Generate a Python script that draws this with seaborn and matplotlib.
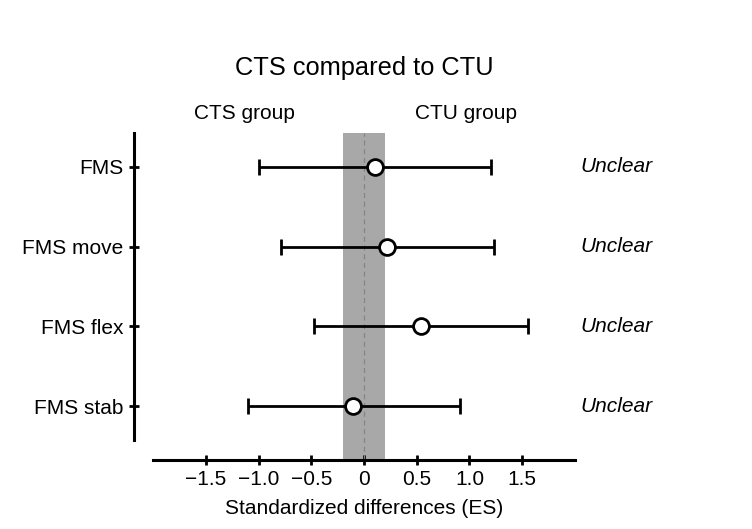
import matplotlib
matplotlib.use("Agg")
import matplotlib.pyplot as plt
import matplotlib.transforms as mtransforms
import seaborn as sns
import pandas as pd

# --- dane ---
outcomes = ["FMS", "FMS move", "FMS flex", "FMS stab"]
es = [0.10, 0.22, 0.54, -0.10]
ci_low = [-1.00, -0.79, -0.47, -1.10]
ci_high = [1.20, 1.23, 1.55, 0.91]
verdicts = ["Unclear", "Unclear", "Unclear", "Unclear"]
trivial = 0.2
xticks = [-1.5, -1.0, -0.5, 0, 0.5, 1.0, 1.5]
xticklabels = ["\u22121.5", "\u22121.0", "\u22120.5", "0", "0.5", "1.0", "1.5"]

df = pd.DataFrame({"outcome": outcomes, "es": es, "lo": ci_low, "hi": ci_high})
df["pos"] = range(len(df))

sns.set_theme(style="ticks")
plt.rcParams["font.family"] = ["Liberation Sans", "DejaVu Sans"]
plt.rcParams.update({"text.color": "black", "axes.labelcolor": "black",
                     "xtick.color": "black", "ytick.color": "black"})
FS = 15

fig = plt.figure(figsize=(7.52, 5.29), dpi=100)
ax = fig.add_axes([0.2035, 0.1682, 0.5611, 0.5804])

# pas "trywialny" +/- 0.2 i linia zera - sięga aż do osi X (przesuniętej)
ax.axvspan(-trivial, trivial, ymin=-0.065, ymax=1.0, color="#a8a8a8", lw=0, clip_on=False, zorder=0)
ax.axvline(0, ymin=-0.065, ymax=1.0, color="#858585", lw=0.9, ls=(0, (4, 3)), clip_on=False, zorder=1)

# przedziały ufności
ax.errorbar(df["es"], df["pos"],
            xerr=[df["es"] - df["lo"], df["hi"] - df["es"]],
            fmt="none", ecolor="black", elinewidth=2, capsize=5.5, capthick=2, zorder=2)

# punkty ES
sns.scatterplot(data=df, x="es", y="pos", ax=ax, s=130, color="white",
                edgecolor="black", linewidth=2, zorder=3, legend=False)

ax.set_xlim(-2, 2)
ax.set_ylim(len(df) - 1 + 0.42, -0.42)
ax.set_yticks(df["pos"])
ax.set_yticklabels(outcomes)
ax.set_xticks(xticks)
ax.set_xticklabels(xticklabels)
ax.set_ylabel("")
ax.set_xlabel("Standardized differences (ES)", fontsize=FS, labelpad=7)

sns.despine(ax=ax, offset={"left": 13.7, "bottom": 14.4})
for s in ["left", "bottom"]:
    ax.spines[s].set_linewidth(2.2)
    ax.spines[s].set_color("black")
ax.tick_params(axis="both", direction="inout", length=7, width=2, color="black",
               labelcolor="black", labelsize=FS, pad=4)

# opisy po prawej stronie
tr = mtransforms.blended_transform_factory(ax.transAxes, ax.transData)
for p, v in zip(df["pos"], verdicts):
    ax.text(1.012, p, v, transform=tr, fontsize=FS, style="italic", va="center", ha="left")

# etykiety grup nad wykresem
tr2 = mtransforms.blended_transform_factory(ax.transData, ax.transAxes)
ax.text(-1.13, 1.065, "CTS group", transform=tr2, fontsize=FS, ha="center", va="center")
ax.text(0.97, 1.065, "CTU group", transform=tr2, fontsize=FS, ha="center", va="center")

ax.set_title("CTS compared to CTU", fontsize=18.3, pad=41.5, color="black")

fig.savefig("out.png", dpi=100)
plt.close(fig)
